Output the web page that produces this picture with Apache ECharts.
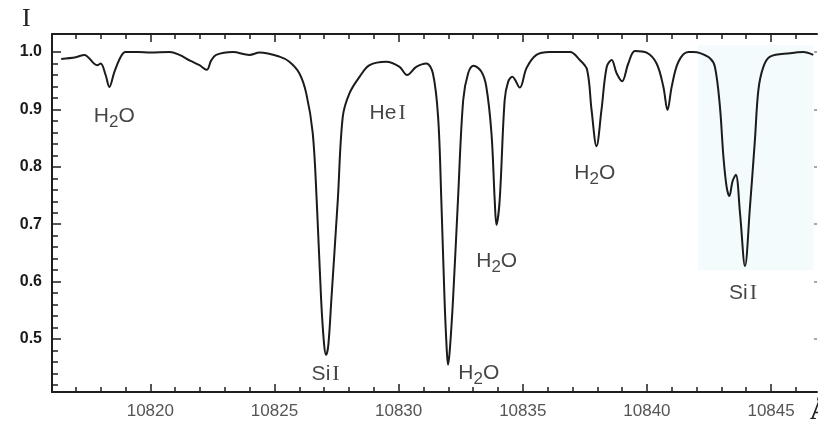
<!DOCTYPE html>
<html>
<head>
<meta charset="utf-8">
<script src="https://cdn.jsdelivr.net/npm/echarts@6/dist/echarts.min.js"></script>
<style>
  html, body { margin: 0; padding: 0; background: #fff; }
  #chart { width: 818px; height: 432px; }
</style>
</head>
<body>
<div id="chart"></div>
<script>
// wavelength (Angstrom) and relative intensity
var wavelength = [
  10816.41, 10817.0, 10817.34, 10817.86, 10818.0, 10818.2, 10818.35, 10818.55, 10818.8, 10819.0,
  10819.5, 10820.0, 10820.77, 10821.17, 10821.6, 10821.98, 10822.27, 10822.45, 10822.65, 10823.32,
  10823.99, 10824.4, 10825.2, 10825.6, 10826.0, 10826.28, 10826.54, 10826.7, 10826.88, 10827.0,
  10827.08, 10827.17, 10827.29, 10827.55, 10827.75, 10828.02, 10828.43, 10828.83, 10829.5, 10830.04,
  10830.34, 10830.71, 10831.12, 10831.38, 10831.59, 10831.72, 10831.85, 10831.94, 10831.99, 10832.06,
  10832.19, 10832.39, 10832.6, 10832.8, 10833.02, 10833.33, 10833.53, 10833.74, 10833.87, 10833.94,
  10834.07, 10834.27, 10834.41, 10834.58, 10834.88, 10835.15, 10835.55, 10836.09, 10836.9, 10837.3,
  10837.59, 10837.77, 10837.97, 10838.17, 10838.38, 10838.58, 10838.78, 10839.0, 10839.25, 10839.52,
  10839.99, 10840.39, 10840.66, 10840.83, 10841.0, 10841.27, 10841.67, 10841.87, 10842.14, 10842.54,
  10842.74, 10842.94, 10843.08, 10843.21, 10843.32, 10843.45, 10843.58, 10843.75, 10843.95, 10844.15,
  10844.35, 10844.49, 10844.69, 10844.96, 10845.77, 10846.3, 10846.7
];
var intensity = [
  0.988, 0.991, 0.995, 0.977, 0.980, 0.960, 0.939, 0.965, 0.991, 1.000,
  1.000, 0.999, 1.000, 0.995, 0.985, 0.977, 0.969, 0.985, 0.995, 1.000,
  0.995, 0.999, 0.992, 0.983, 0.963, 0.928, 0.859, 0.742, 0.568, 0.490,
  0.472, 0.490, 0.568, 0.742, 0.887, 0.928, 0.957, 0.977, 0.983, 0.974,
  0.960, 0.974, 0.980, 0.963, 0.887, 0.742, 0.568, 0.480, 0.455, 0.480,
  0.568, 0.742, 0.916, 0.963, 0.976, 0.966, 0.940, 0.858, 0.742, 0.699,
  0.742, 0.916, 0.948, 0.957, 0.938, 0.972, 0.995, 1.000, 1.000, 0.986,
  0.969, 0.899, 0.836, 0.899, 0.974, 0.986, 0.963, 0.949, 0.980, 1.002,
  0.999, 0.980, 0.940, 0.899, 0.940, 0.983, 1.000, 1.000, 0.998, 0.989,
  0.974, 0.905, 0.818, 0.765, 0.749, 0.775, 0.786, 0.719, 0.627, 0.730,
  0.847, 0.934, 0.974, 0.992, 0.998, 1.000, 0.995
];

// line identifications
var annoX = [10818.55, 10829.56, 10827.06, 10833.23, 10833.95, 10837.9, 10843.87];
var annoY = [0.888, 0.894, 0.439, 0.441, 0.636, 0.789, 0.580];
var annoText = ['H{s|2}O', 'He{r|I}', 'Si{r|I}', 'H{s|2}O', 'H{s|2}O', 'H{s|2}O', 'Si{r|I}'];

// tick labels
var xMajor = [10820, 10825, 10830, 10835, 10840, 10845];
var yMajor = [0.5, 0.6, 0.7, 0.8, 0.9, 1.0];

// faint tinted patch on the scan (x from, y top, y bottom)
var shadeBox = [10842.06, 1.012, 0.62];

var xMin = 10816.04, xMax = 10846.85;
var yMin = 0.4077, yMax = 1.0314;

var xMinor = [];
for (var w = 10817; w <= 10846; w++) {
  if (w % 5 != 0) xMinor.push(w);
}
var yMinor = [];
for (var k = 42; k <= 98; k += 2) {
  if (k % 10 != 0) yMinor.push(k / 100);
}

var line = [];
for (var i = 0; i < wavelength.length; i++) {
  line.push([wavelength[i], intensity[i]]);
}
var anno = [];
for (var j = 0; j < annoX.length; j++) {
  anno.push([annoX[j], annoY[j], annoText[j]]);
}

var axisCol = '#1e1e1e';
function xAx(pos, ticks, len, showLine, showLabel) {
  return {
    type: 'value', position: pos, min: xMin, max: xMax,
    axisLine: { show: showLine, onZero: false, lineStyle: { color: axisCol, width: 2 } },
    axisTick: { show: true, inside: true, length: len, customValues: ticks, lineStyle: { color: axisCol, width: 1.5 } },
    axisLabel: {
      show: showLabel, customValues: ticks, margin: 11, color: '#555',
      fontFamily: 'Liberation Sans', fontSize: 17,
      formatter: function (v) { return String(v); }
    },
    splitLine: { show: false }
  };
}
function yAx(pos, ticks, len, showLine, showLabel) {
  return {
    type: 'value', position: pos, min: yMin, max: yMax,
    axisLine: { show: showLine, onZero: false, lineStyle: { color: axisCol, width: 2 } },
    axisTick: { show: true, inside: true, length: len, customValues: ticks, lineStyle: { color: axisCol, width: 1.5 } },
    axisLabel: {
      show: showLabel, customValues: ticks, margin: 10, color: '#1a1a1a',
      fontFamily: 'Liberation Sans', fontSize: 16, fontWeight: 'bold',
      formatter: function (v) { return v.toFixed(1); }
    },
    splitLine: { show: false }
  };
}

var rightAxis = yAx('right', yMajor, 3, false, false);
rightAxis.axisTick.lineStyle.color = '#8a8a8a';

var myChart = echarts.init(document.getElementById('chart'));
var option = {
  backgroundColor: '#fff',
  animation: false,
  grid: { left: 52, right: 1, top: 34, bottom: 40 },
  xAxis: [
    xAx('bottom', xMajor, 8, true, true),
    xAx('bottom', xMinor, 5, false, false),
    xAx('top', xMajor, 8, true, false),
    xAx('top', xMinor, 5, false, false)
  ],
  yAxis: [
    yAx('left', yMajor, 9, true, true),
    yAx('left', yMinor, 6, false, false),
    rightAxis
  ],
  graphic: [
    { type: 'text', left: 22, top: 6, style: { text: 'I', fontFamily: 'Liberation Serif', fontSize: 26, fill: '#222' } },
    { type: 'text', left: 810, top: 398, style: { text: 'Å', fontFamily: 'Liberation Serif', fontSize: 28, fontWeight: 'bold', fill: '#222' } }
  ],
  series: [
    {
      type: 'line',
      data: line,
      showSymbol: false,
      smooth: 0.35,
      lineStyle: { color: '#1b1b1b', width: 2 },
      markArea: {
        silent: true,
        itemStyle: { color: '#f3fbfd' },
        data: [[{ xAxis: shadeBox[0], yAxis: shadeBox[1] }, { xAxis: 'max', yAxis: shadeBox[2] }]]
      },
      z: 3
    },
    {
      type: 'scatter',
      data: anno,
      symbolSize: 0,
      label: {
        show: true,
        position: 'inside',
        formatter: function (p) { return p.data[2]; },
        fontFamily: 'Liberation Sans',
        fontSize: 21,
        color: '#151515',
        rich: {
          s: { fontFamily: 'Liberation Sans', fontSize: 17, color: '#151515', padding: [13, 0, 0, 0], verticalAlign: 'bottom' },
          r: { fontFamily: 'Liberation Serif', fontSize: 22, color: '#151515', padding: [0, 0, 0, 2] }
        }
      },
      z: 4
    }
  ]
};
myChart.setOption(option);
</script>
</body>
</html>
